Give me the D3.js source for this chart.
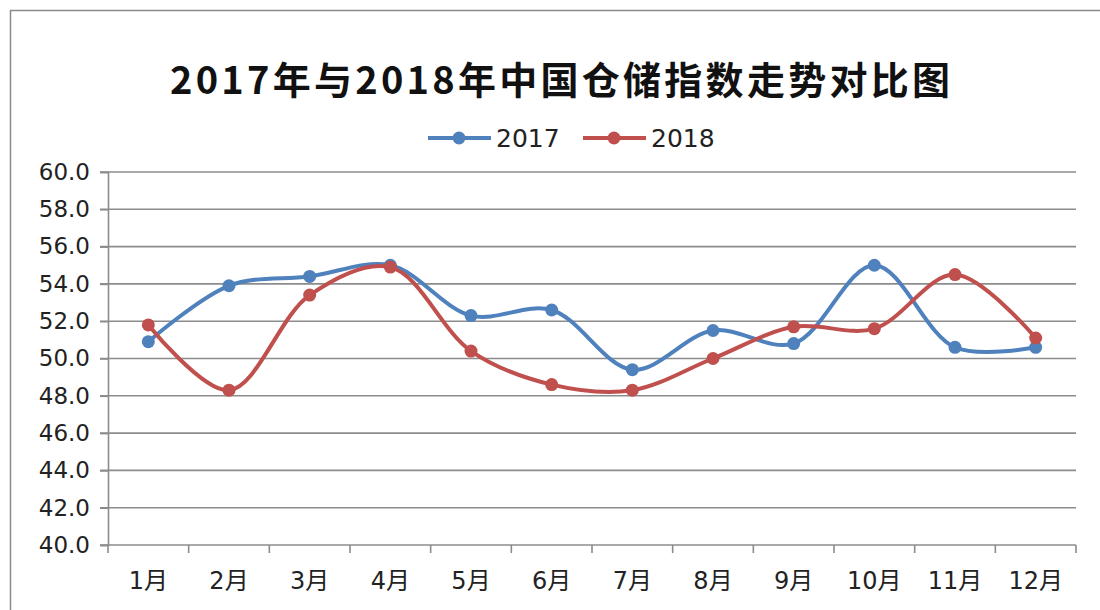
<!DOCTYPE html>
<meta charset="utf-8">
<style>
  body { margin: 0; background: #fff; }
  text { font-family: "DejaVu Sans", "Noto Sans CJK SC", sans-serif; }
</style>
<body>
<script src="https://cdn.jsdelivr.net/npm/d3@7"></script>
<script>

var months = ["1月","2月","3月","4月","5月","6月","7月","8月","9月","10月","11月","12月"];
var v2017 = [50.9, 53.9, 54.4, 55.0, 52.3, 52.6, 49.4, 51.5, 50.8, 55.0, 50.6, 50.6];
var v2018 = [51.8, 48.3, 53.4, 54.9, 50.4, 48.6, 48.3, 50.0, 51.7, 51.6, 54.5, 51.1];
var yTicks = [40, 42, 44, 46, 48, 50, 52, 54, 56, 58, 60];
var seriesNames = ["2017", "2018"];
var colors = ["#4f81bd", "#c0504d"];

var width = 1100, height = 610;
var margin = {top: 172, right: 24, bottom: 65, left: 108};

var svg = d3.select("body").append("svg")
    .attr("width", width)
    .attr("height", height);

// outer chart frame
svg.append("rect")
    .attr("x", 10.5).attr("y", 10.5)
    .attr("width", width + 20).attr("height", height + 20)
    .attr("fill", "none").attr("stroke", "#8a8a8a").attr("stroke-width", 1.5);

var x = d3.scaleBand()
    .domain(months)
    .range([margin.left, width - margin.right]);

var y = d3.scaleLinear()
    .domain([40, 60])
    .range([height - margin.bottom, margin.top]);

// gridlines
svg.append("g")
  .selectAll("line")
  .data(yTicks)
  .enter().append("line")
    .attr("x1", margin.left - 8)
    .attr("x2", width - margin.right)
    .attr("y1", function(d) { return y(d); })
    .attr("y2", function(d) { return y(d); })
    .attr("stroke", "#8c8c8c")
    .attr("stroke-width", 1.6);

// y axis
var yAxis = svg.append("g")
    .attr("transform", "translate(" + margin.left + ",0)")
    .call(d3.axisLeft(y).tickValues(yTicks).tickFormat(d3.format(".1f")).tickSize(8).tickPadding(10));
yAxis.select(".domain").attr("stroke", "#8c8c8c").attr("stroke-width", 1.6);
yAxis.selectAll(".tick line").attr("stroke", "#8c8c8c").attr("stroke-width", 1.6);
yAxis.selectAll("text").attr("font-size", 23).attr("fill", "#222")
    .style("font-family", "'DejaVu Sans', sans-serif");

// x axis, ticks on band boundaries
var boundaries = months.map(function(m) { return x(m); }).concat([x.range()[1]]);
var xg = svg.append("g");
xg.selectAll("line")
  .data(boundaries)
  .enter().append("line")
    .attr("x1", function(d) { return d; })
    .attr("x2", function(d) { return d; })
    .attr("y1", y(40))
    .attr("y2", y(40) + 8)
    .attr("stroke", "#8c8c8c")
    .attr("stroke-width", 1.6);
xg.selectAll("text")
  .data(months)
  .enter().append("text")
    .attr("x", function(d) { return x(d) + x.bandwidth() / 2; })
    .attr("y", y(40) + 44)
    .attr("text-anchor", "middle")
    .attr("font-size", 24)
    .attr("fill", "#222")
    .text(function(d) { return d; });

// lines
var line = d3.line()
    .x(function(d, i) { return x(months[i]) + x.bandwidth() / 2; })
    .y(function(d) { return y(d); })
    .curve(d3.curveCatmullRom.alpha(0.5));

[v2017, v2018].forEach(function(vals, s) {
  svg.append("path")
      .datum(vals)
      .attr("d", line)
      .attr("fill", "none")
      .attr("stroke", colors[s])
      .attr("stroke-width", 4);
  svg.append("g").selectAll("circle")
    .data(vals)
    .enter().append("circle")
      .attr("cx", function(d, i) { return x(months[i]) + x.bandwidth() / 2; })
      .attr("cy", function(d) { return y(d); })
      .attr("r", 6.5)
      .attr("fill", colors[s]);
});

// title
svg.append("text")
    .attr("x", 560)
    .attr("y", 94)
    .attr("text-anchor", "middle")
    .attr("font-size", 38)
    .attr("font-weight", "bold")
    .attr("fill", "#111")
    .attr("textLength", 780)
    .attr("lengthAdjust", "spacing")
    .style("font-family", "'Noto Sans CJK SC', sans-serif")
    .text("2017年与2018年中国仓储指数走势对比图");

// legend
var legend = svg.append("g").attr("transform", "translate(428,138)");
seriesNames.forEach(function(name, i) {
  var g = legend.append("g").attr("transform", "translate(" + (i * 155) + ",0)");
  g.append("line")
      .attr("x1", 0).attr("x2", 63)
      .attr("y1", 0).attr("y2", 0)
      .attr("stroke", colors[i]).attr("stroke-width", 4);
  g.append("circle")
      .attr("cx", 31).attr("cy", 0).attr("r", 6.5)
      .attr("fill", colors[i]);
  g.append("text")
      .attr("x", 68).attr("y", 9)
      .attr("font-size", 25)
      .attr("fill", "#222")
      .text(name);
});

</script>
</body>
